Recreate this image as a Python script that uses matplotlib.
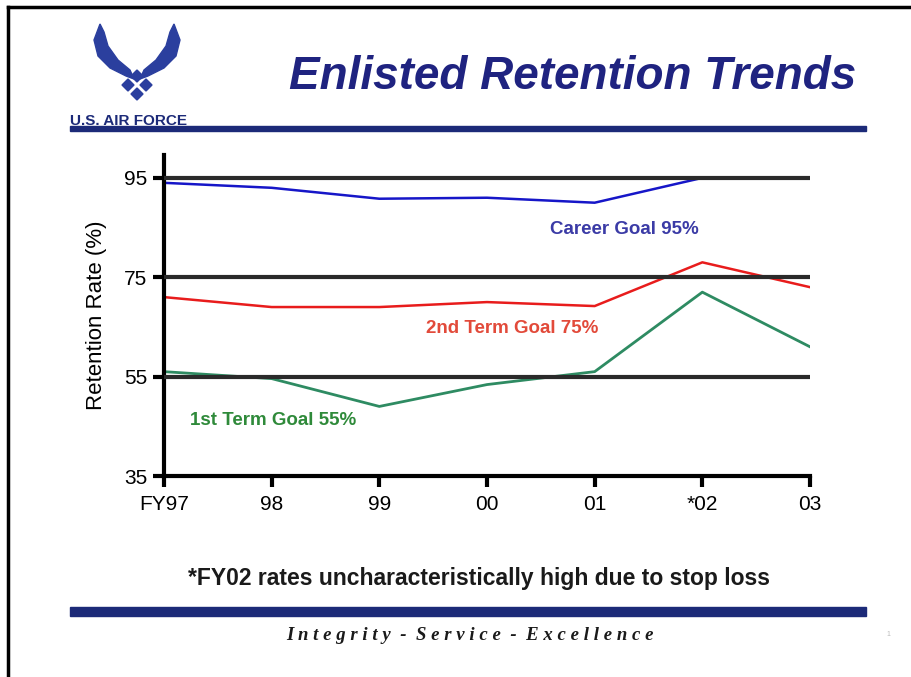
import matplotlib
matplotlib.use("Agg")
import matplotlib.pyplot as plt
from matplotlib.patches import Polygon, Rectangle
from matplotlib.lines import Line2D

plt.rcParams['font.family'] = ['Liberation Sans', 'DejaVu Sans']

# data
years = ["FY97", "98", "99", "00", "01", "*02", "03"]
career = [94, 93, 90.8, 91, 90, 95, 95]
second_term = [71, 69, 69, 70, 69.2, 78, 73]
first_term = [56, 54.6, 49, 53.4, 56, 72, 61]
goals = [55, 75, 95]
yticks = [35, 55, 75, 95]

W, H = 911, 677
fig = plt.figure(figsize=(W / 100, H / 100), dpi=100)
fig.patch.set_facecolor("white")

navy = "#1c2a78"


def fx(px):
    return px / W


def fy(py):
    return 1 - py / H


# slide frame (top and left edges)
fig.add_artist(Line2D([fx(8), fx(911)], [fy(7), fy(7)], color="black", lw=2.5))
fig.add_artist(Line2D([fx(8), fx(8)], [fy(7), fy(677)], color="black", lw=2.5))

# blue bars
fig.add_artist(Rectangle((fx(70), fy(131)), fx(866) - fx(70), fy(126) - fy(131),
                         color=navy, transform=fig.transFigure))
fig.add_artist(Rectangle((fx(70), fy(616)), fx(866) - fx(70), fy(607) - fy(616),
                         color=navy, transform=fig.transFigure))

# title
fig.text(fx(573), fy(77), "Enlisted Retention Trends", ha="center", va="center",
         fontsize=33, fontweight="bold", fontstyle="italic", color="#1f2380")

# logo (rough sketch of the wings)
lax = fig.add_axes([fx(60), fy(135), fx(220) - fx(60), fy(15) - fy(135)])
lax.set_xlim(60, 220)
lax.set_ylim(135, 15)
lax.axis("off")
logo_col = "#2b3f9e"
left_wing = [(100, 24), (94, 40), (98, 56), (110, 68), (126, 76), (134, 79),
             (130, 70), (118, 60), (108, 46), (104, 32)]
right_wing = [(274 - x, y) for x, y in left_wing]
lax.add_patch(Polygon(left_wing, closed=True, color=logo_col))
lax.add_patch(Polygon(right_wing, closed=True, color=logo_col))
for x0, y0 in [(137, 76), (128, 85), (146, 85), (137, 94)]:
    lax.add_patch(Polygon([(x0, y0 - 6), (x0 + 6, y0), (x0, y0 + 6), (x0 - 6, y0)],
                          closed=True, color=logo_col))
lax.text(70, 121, "U.S. AIR FORCE", fontsize=11, fontweight="bold", color=navy,
         va="center", ha="left")

# main chart
ax = fig.add_axes([fx(164), fy(476), fx(810) - fx(164), fy(155) - fy(476)])
x = list(range(len(years)))
ax.plot(x, career, color="#1616c8", lw=1.8, zorder=2)
ax.plot(x, second_term, color="#e81c1c", lw=1.8, zorder=2)
ax.plot(x, first_term, color="#2e8b62", lw=2.0, zorder=2)
for g in goals:
    ax.axhline(g, color="#2a2a2a", lw=3, zorder=3)

ax.set_xlim(0, 6)
ax.set_ylim(35, 99.6)
ax.set_xticks(x)
ax.set_xticklabels(years)
ax.set_yticks(yticks)
for s in ["top", "right"]:
    ax.spines[s].set_visible(False)
for s in ["left", "bottom"]:
    ax.spines[s].set_linewidth(3)
    ax.spines[s].set_color("black")
ax.tick_params(axis="both", direction="out", length=8, width=3, labelsize=15,
               colors="black")
ax.tick_params(axis="x", pad=6)
ax.tick_params(axis="y", pad=4)
ax.set_ylabel("Retention Rate (%)", fontsize=16, labelpad=12)
ax.set_facecolor("white")

ax.text(4.97, 84.7, "Career Goal 95%", color="#3b3ba6", fontsize=13.5,
        fontweight="bold", ha="right", va="center")
ax.text(4.03, 64.7, "2nd Term Goal 75%", color="#e24a3a", fontsize=13.5,
        fontweight="bold", ha="right", va="center")
ax.text(0.24, 46.1, "1st Term Goal 55%", color="#2f8a3a", fontsize=13.5,
        fontweight="bold", ha="left", va="center")

# footnote and motto
fig.text(fx(479), fy(578), "*FY02 rates uncharacteristically high due to stop loss",
         ha="center", va="center", fontsize=16.5, fontweight="bold", color="#1a1a1a")
fig.text(fx(470), fy(636), "I n t e g r i t y  -  S e r v i c e  -  E x c e l l e n c e",
         ha="center", va="center", fontsize=13.5, fontstyle="italic", fontweight="bold",
         family=["Liberation Serif", "DejaVu Serif"], color="#1a1a1a")
fig.text(fx(888), fy(634), "1", ha="center", va="center", fontsize=5, color="#bbbbbb")

fig.savefig("out.png", dpi=100, facecolor="white")
